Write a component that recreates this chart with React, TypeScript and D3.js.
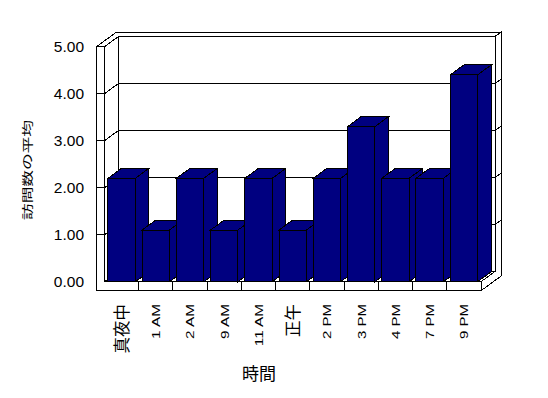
import React from "react";
import * as d3 from "d3";

const categories = ["真夜中", "1 AM", "2 AM", "9 AM", "11 AM", "正午", "2 PM", "3 PM", "4 PM", "7 PM", "9 PM"];
const values = [2.2, 1.1, 2.2, 1.1, 2.2, 1.1, 2.2, 3.3, 2.2, 2.2, 4.4];
const yTicks = [0, 1, 2, 3, 4, 5];
const yTitle = "訪問数の平均";
const xTitle = "時間";

const W = 548;
const H = 398;
const X0 = 96.5;
const X1 = 104.5;
const X2 = 481;
const Z_IN = 14;
const Z_OUT = 20;
const Z_BAR = 13.6;
const KY = 0.73;
const FILL = "#000080";
const LATIN_FONT = "Arial, 'Liberation Sans', sans-serif";
const CJK_FONT = "'Noto Sans CJK JP', sans-serif";

const y = d3.scaleLinear().domain([0, 5]).range([281.7, 46.7]);
const x = d3.scaleBand<string>().domain(categories).range([X1, X2]).paddingInner(0).paddingOuter(0);

const YTOP = y(5);
const YFLOOR = y(0);
const YBOT = YFLOOR + 9;

const P = (px: number, py: number, pz: number): [number, number] => [px + pz, py - pz * KY];
const poly = (pts: [number, number][]) => pts.map((p) => p.join(",")).join(" ");
const line = (a: [number, number], b: [number, number], key: string) => (
  <line key={key} x1={a[0]} y1={a[1]} x2={b[0]} y2={b[1]} stroke="#000" strokeWidth={1} />
);

const isCJK = (s: string) => /[^\x00-\x7F]/.test(s);

let ctx: CanvasRenderingContext2D | null = null;
const measure = (s: string, font: string) => {
  if (typeof document === "undefined") return s.length * 8;
  if (!ctx) ctx = document.createElement("canvas").getContext("2d");
  if (!ctx) return s.length * 8;
  ctx.font = font;
  return ctx.measureText(s).width;
};

export default function App() {
  const bw = x.bandwidth();
  const gridVals = yTicks.filter((v) => v > 0 && v < 5);
  return (
    <svg width={W} height={H} style={{ position: "absolute", left: 0, top: 0, background: "#fff" }}>
      <rect x={0} y={0} width={W} height={H} fill="#fff" />
      <g shapeRendering="crispEdges">
        <polygon points={poly([P(X1, YTOP, Z_IN), P(X2, YTOP, Z_IN), P(X2, YFLOOR, Z_IN), P(X1, YFLOOR, Z_IN)])} fill="#fff" stroke="#000" />
        <polygon
          points={poly([P(X0, YTOP, 0), P(X1, YTOP, 0), P(X1, YTOP, Z_IN), P(X2, YTOP, Z_IN), P(X2, YTOP, Z_OUT), P(X0, YTOP, Z_OUT)])}
          fill="#fff"
          stroke="#000"
        />
        <polygon
          points={poly([P(X2, YFLOOR, 0), P(X2, YBOT, 0), P(X2, YBOT, Z_OUT), P(X2, YTOP, Z_OUT), P(X2, YTOP, Z_IN), P(X2, YFLOOR, Z_IN)])}
          fill="#fff"
          stroke="#000"
        />
        <polygon points={poly([P(X1, YTOP, 0), P(X1, YTOP, Z_IN), P(X1, YFLOOR, Z_IN), P(X1, YFLOOR, 0)])} fill="#fff" stroke="#000" />
        <polygon points={poly([P(X1, YFLOOR, 0), P(X2, YFLOOR, 0), P(X2, YFLOOR, Z_IN), P(X1, YFLOOR, Z_IN)])} fill="#fff" stroke="#000" />
        <polygon
          points={poly([P(X0, YTOP, 0), P(X1, YTOP, 0), P(X1, YFLOOR, 0), P(X2, YFLOOR, 0), P(X2, YBOT, 0), P(X0, YBOT, 0)])}
          fill="#fff"
          stroke="#000"
        />
        {gridVals.map((v) => {
          const yy = y(v);
          return (
            <g key={"g" + v}>
              {line(P(X0, yy, 0), P(X1, yy, 0), "a")}
              {line(P(X1, yy, 0), P(X1, yy, Z_IN), "b")}
              {line(P(X1, yy, Z_IN), P(X2, yy, Z_IN), "c")}
              {line(P(X2, yy, Z_IN), P(X2, yy, Z_OUT), "d")}
            </g>
          );
        })}
        {categories.slice(1).map((c) => {
          const xx = x(c)!;
          return line([xx, YFLOOR], [xx, YBOT], "t" + c);
        })}
        {categories.map((c, i) => {
          const xl = x(c)! + bw * 0.1;
          const xr = xl + bw * 0.8;
          const yt = y(values[i]);
          const yb = YFLOOR;
          return (
            <g key={"b" + c} fill={FILL} stroke="#000" strokeWidth={1}>
              <polygon points={poly([P(xr, yt, 0), P(xr, yt, Z_BAR), P(xr, yb, Z_BAR), P(xr, yb, 0)])} />
              <polygon points={poly([P(xl, yt, 0), P(xr, yt, 0), P(xr, yt, Z_BAR), P(xl, yt, Z_BAR)])} />
              <polygon points={poly([P(xl, yt, 0), P(xr, yt, 0), P(xr, yb, 0), P(xl, yb, 0)])} />
            </g>
          );
        })}
      </g>
      {yTicks.map((v) => (
        <text key={"yl" + v} x={84} y={y(v)} dy="0.36em" textAnchor="end" fontFamily={LATIN_FONT} fontSize={15.5} fill="#000">
          {v.toFixed(2)}
        </text>
      ))}
      {categories.map((c) => {
        const cx = x(c)! + bw / 2;
        const cjk = isCJK(c);
        if (cjk) {
          return (
            <text
              key={"xl" + c}
              transform={`translate(${cx},${304}) rotate(-90)`}
              textAnchor="end"
              dy="0.36em"
              fontFamily={CJK_FONT}
              fontSize={16.5}
              fill="#000"
            >
              {c}
            </text>
          );
        }
        const len = measure(c, `15px Arial`);
        return (
          <text
            key={"xl" + c}
            transform={`translate(${cx + 0.5},${304}) rotate(-90)`}
            textAnchor="end"
            dy="0.36em"
            fontFamily={LATIN_FONT}
            fontSize={10.8}
            textLength={len}
            lengthAdjust="spacingAndGlyphs"
            fill="#000"
          >
            {c}
          </text>
        );
      })}
      <text
        transform="translate(28,170) rotate(-90)"
        textAnchor="middle"
        dy="0.36em"
        fontFamily={CJK_FONT}
        fontSize={11.5}
        textLength={100}
        lengthAdjust="spacingAndGlyphs"
        fill="#000"
      >
        {yTitle}
      </text>
      <text x={259} y={374} dy="0.36em" textAnchor="middle" fontFamily={CJK_FONT} fontSize={17} fill="#000">
        {xTitle}
      </text>
    </svg>
  );
}
